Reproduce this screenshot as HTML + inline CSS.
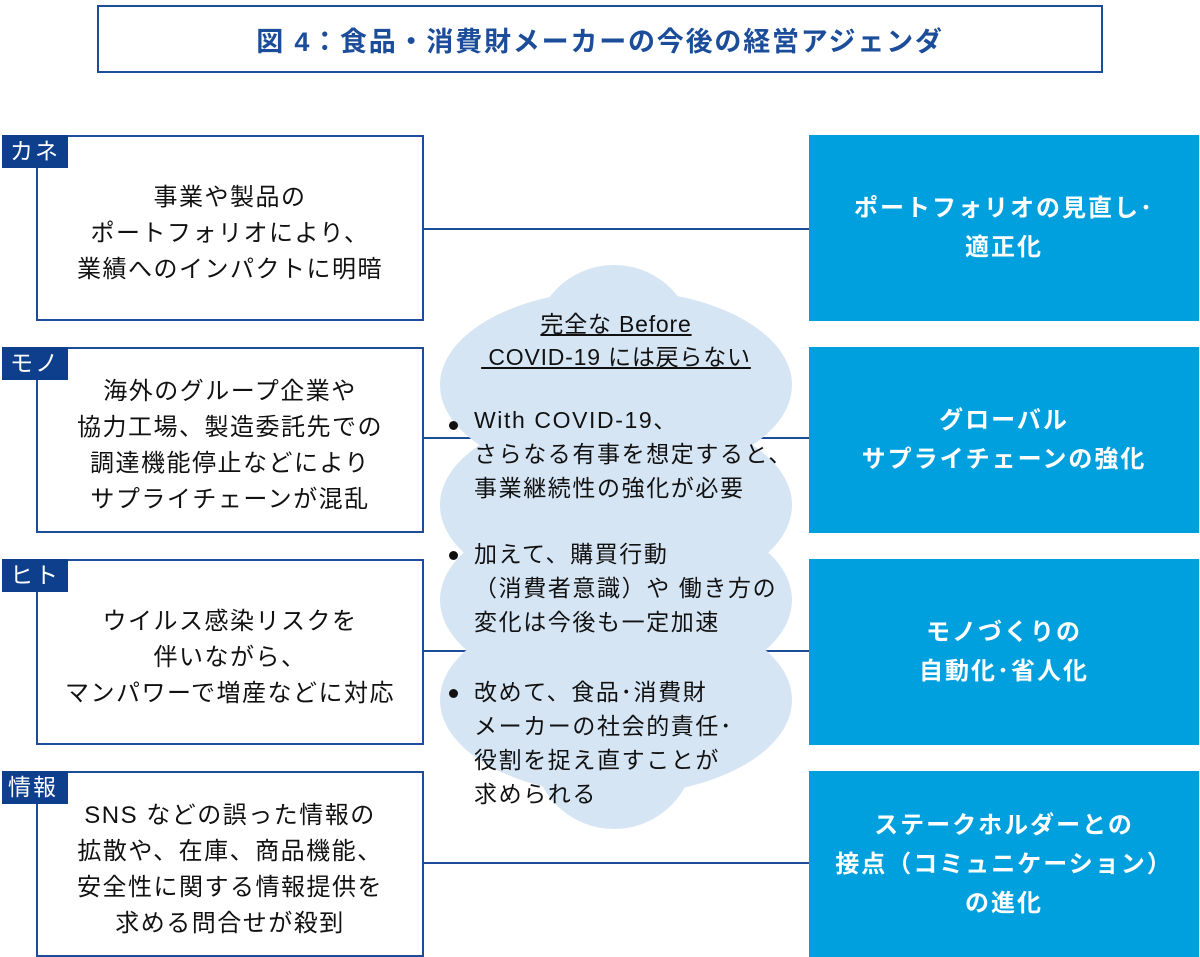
<!DOCTYPE html>
<html><head><meta charset="utf-8"><style>
body{margin:0;width:1200px;height:957px;background:#fff;position:relative;overflow:hidden;font-family:"Liberation Sans","Noto Sans CJK JP",sans-serif}
.a{position:absolute;box-sizing:border-box}
.title{left:97px;top:5px;width:1006px;height:68px;border:2px solid #1c4d9a;color:#1c4d9a;font-weight:bold;font-size:27px;display:flex;align-items:center;justify-content:center;letter-spacing:1.8px}
.lb{left:36px;width:388px;height:186px;border:2px solid #1c4d9a;background:#fff;display:flex;align-items:center;justify-content:center;text-align:center;font-size:24px;letter-spacing:1.5px;line-height:36px;color:#111;padding-top:12px;white-space:nowrap}
.tag{left:2px;width:66px;height:33px;background:#0e3f8d;color:#fff;font-size:23px;letter-spacing:2px;line-height:33px;padding-left:8px}
.rb{left:809px;width:390px;height:186px;background:#00a0df;color:#fff;font-weight:bold;font-size:24px;letter-spacing:2px;line-height:39px;display:flex;align-items:center;justify-content:center;text-align:center;white-space:nowrap}
.ln{left:423px;width:386px;height:2px;background:#1c4d9a}
.c{position:absolute;left:474px;font-size:23px;letter-spacing:1.6px;line-height:34px;color:#111;white-space:nowrap}
.bul{position:absolute;left:449px;width:9px;height:9px;border-radius:50%;background:#111}
</style></head><body>
<div class="a title">図 4：食品・消費財メーカーの今後の経営アジェンダ</div>
<div class="a ln" style="top:228px"></div>
<div class="a ln" style="top:437px"></div>
<div class="a ln" style="top:650px"></div>
<div class="a ln" style="top:862px"></div>
<div class="a lb" style="top:135px">事業や製品の<br>ポートフォリオにより、<br>業績へのインパクトに明暗</div>
<div class="a lb" style="top:347px">海外のグループ企業や<br>協力工場、製造委託先での<br>調達機能停止などにより<br>サプライチェーンが混乱</div>
<div class="a lb" style="top:559px">ウイルス感染リスクを<br>伴いながら、<br>マンパワーで増産などに対応</div>
<div class="a lb" style="top:771px">SNS などの誤った情報の<br>拡散や、在庫、商品機能、<br>安全性に関する情報提供を<br>求める問合せが殺到</div>
<div class="a tag" style="top:135px">カネ</div>
<div class="a tag" style="top:347px">モノ</div>
<div class="a tag" style="top:559px">ヒト</div>
<div class="a tag" style="top:771px;padding-left:6px">情報</div>
<div class="a rb" style="top:135px">ポートフォリオの見直し･<br>適正化</div>
<div class="a rb" style="top:347px">グローバル<br>サプライチェーンの強化</div>
<div class="a rb" style="top:559px">モノづくりの<br>自動化･省人化</div>
<div class="a rb" style="top:771px">ステークホルダーとの<br>接点（コミュニケーション）<br>の進化</div>
<svg class="a" style="left:0;top:0" width="1200" height="957"><g fill="#d6e5f4">
<circle cx="614" cy="346" r="81"/><circle cx="614" cy="748" r="81"/>
<ellipse cx="616" cy="385" rx="176" ry="95"/><ellipse cx="616" cy="505" rx="176" ry="95"/>
<ellipse cx="616" cy="600" rx="176" ry="95"/><ellipse cx="616" cy="700" rx="176" ry="95"/>
</g></svg>
<div class="a" style="left:440px;width:352px;top:308px;text-align:center;font-size:23px;letter-spacing:0.8px;line-height:33px;color:#111;white-space:nowrap"><span style="text-decoration:underline">完全な Before<br>&nbsp;COVID-19 には戻らない</span></div>
<div class="bul" style="top:421px"></div>
<div class="c" style="top:403px">With COVID-19、<br>さらなる有事を想定すると、<br>事業継続性の強化が必要</div>
<div class="bul" style="top:551px"></div>
<div class="c" style="top:537px">加えて、購買行動<br>（消費者意識）や 働き方の<br>変化は今後も一定加速</div>
<div class="bul" style="top:689px"></div>
<div class="c" style="top:675px">改めて、食品･消費財<br>メーカーの社会的責任･<br>役割を捉え直すことが<br>求められる</div>
</body></html>
